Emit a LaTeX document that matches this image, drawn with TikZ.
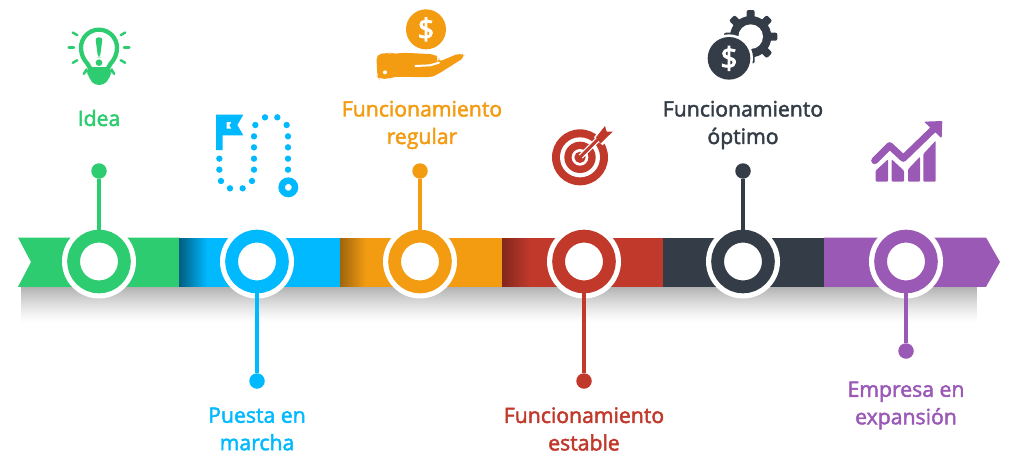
\documentclass[tikz,border=0pt]{standalone}
\usepackage{fontspec}
\setmainfont{Open Sans}[FakeBold=2.2]
\newfontfamily\signfont{Open Sans}[FakeBold=3]
\definecolor{cgreen}{HTML}{2ECC71}
\definecolor{cblue}{HTML}{00B9FF}
\definecolor{corange}{HTML}{F39C12}
\definecolor{cred}{HTML}{C0392B}
\definecolor{cdark}{HTML}{343D47}
\definecolor{cpurple}{HTML}{9B59B6}
\tikzset{
  halo/.style={circle,fill=white,minimum size=74pt,inner sep=0pt},
  ringnode/.style={circle,draw=#1,fill=white,line width=12.8pt,minimum size=50.8pt,inner sep=0pt},
  ballnode/.style={circle,fill=#1,minimum size=15.5pt,inner sep=0pt},
  stem/.style={draw=#1,line width=3.4pt},
  labeltext/.style={text=#1,align=center,inner sep=0pt,font=\fontsize{21.2}{27.5}\selectfont},
  coinsign/.style={text=white,inner sep=0pt,font=\fontsize{#1}{#1}\selectfont\signfont},
  icon/.style={x=.33333pt,y=-.33333pt}
}
\begin{document}
\begin{tikzpicture}[x=1pt,y=-1pt]
\useasboundingbox (0,0) rectangle (1024,466);
% shadow
\foreach \i in {0,...,36}{
  \pgfmathsetmacro\m{30*(1-\i/36)^1.3}
  \fill[black!\m] (21,287+\i) rectangle (977,288.2+\i);
}
% bar
\fill[cgreen] (18,237.5) -- (179.5,237.5) -- (179.5,286.8) -- (18,286.8) -- (31,262) -- cycle;
\fill[cblue] (179,237.5) rectangle (340.5,286.8);
\fill[corange] (340,237.5) rectangle (502,286.8);
\fill[cred] (502,237.5) rectangle (663.5,286.8);
\foreach \x/\c/\d/\w in {179/cblue/50/28,340/corange/35/26,502/cred/32/28}{
  \foreach \i in {0,...,27}{
    \pgfmathsetmacro\m{100-\d*(1-\i/\w)}
    \ifdim\m pt<100pt \fill[\c!\m!black] (\x+\i,237.5) rectangle (\x+\i+1.2,286.8);\fi
  }
}
\fill[cdark] (663,237.5) rectangle (824.5,286.8);
\fill[cpurple] (824,237.5) -- (986,237.5) -- (1000,262) -- (986,286.8) -- (824,286.8) -- cycle;
% stages
\foreach \n/\px/\py/\col in {a/99/171/cgreen,b/257/381/cblue,c/420/171/corange,d/584/381/cred,e/743/171/cdark,f/906/351/cpurple}{
  \node[halo] at (\px,261.5) {};
  \node[ringnode=\col] (ring\n) at (\px,261.5) {};
  \node[ballnode=\col] (ball\n) at (\px,\py) {};
  \draw[stem=\col] (ball\n) -- (ring\n);
}
% labels
\node[labeltext=cgreen] (la) at (99,118) {Idea};
\node[labeltext=cblue] (lb) at (257,429) {Puesta en\\marcha};
\node[labeltext=corange] (lc) at (422,125) {Funcionamiento\\regular};
\node[labeltext=cred] (ld) at (584,429) {Funcionamiento\\estable};
\node[labeltext=cdark] (le) at (743,125) {Funcionamiento\\óptimo};
\node[labeltext=cpurple] (lf) at (906,405.5) {Empresa en\\expansión};
% bulb
\begin{scope}[icon]
  \draw[cgreen,line width=4.3pt,line cap=round,line join=round]
    (263,192) .. controls (250,178) and (243,162) .. (243,143)
    arc[start angle=180,end angle=360,radius=54]
    .. controls (351,162) and (344,178) .. (331,192) -- (322,208) -- (272,208) -- cycle;
  \fill[cgreen,rounded corners=4pt] (258,206) -- (336,206) -- (336,216) -- (328,225) -- (328,238) -- (310,255) -- (284,255) -- (268,238) -- (268,225) -- (258,216) -- cycle;
  \fill[cgreen,rounded corners=3pt] (286,112) -- (308,112) -- (300,172) -- (294,172) -- cycle;
  \fill[cgreen] (297,188) circle[radius=10];
  \foreach \a in {-30,0,30,60,90,120,150,180,210}
    \draw[cgreen,line width=2.4pt,line cap=round] (297,143)++(\a:75) -- ++(\a:16);
\end{scope}
% flag and dotted route
\begin{scope}[icon]
  \fill[cblue] (648,344) -- (730,344) -- (712,375) -- (730,406) -- (668,406) -- (668,450) -- (648,450) -- cycle;
  \fill[white] (680,366) -- (694,366) -- (688,376) -- (694,386) -- (680,386) -- cycle;
  \foreach \u/\v in {658/476,658/509,663/543,690/565,728/565,756/543,762/509,762/476,762/442,762/409,766/375,795/352,832/352,860/375,864/409,864/442,864/476,864/509}
    \fill[cblue] (\u,\v) circle[radius=9.5];
  \draw[cblue,line width=6.5pt] (865,562) circle[radius=20];
\end{scope}
% hand and coin
\begin{scope}[shift={(340,0)},icon]
  \fill[corange] (258,88) circle[radius=60];
  \node[coinsign=29] (s1) at (258,88) {\$};
  \fill[corange,rounded corners=5pt] (109,163) -- (150,158) -- (160,163) -- (185,158) -- (285,163) -- (297,176) -- (292,187) -- (362,158) -- (377,170) -- (290,225) -- (270,232) -- (160,230) -- (150,235) -- (118,238) -- (112,230) -- cycle;
  \draw[white,line width=2pt,line cap=round] (226,198) -- (270,196) -- (297,188);
  \fill[white] (135,217) circle[radius=6];
\end{scope}
% target
\begin{scope}[shift={(340,0)},icon]
  \fill[cred] (720,472) circle[radius=84];
  \fill[white] (720,472) circle[radius=60];
  \fill[cred] (720,472) circle[radius=47];
  \fill[white] (720,472) circle[radius=25];
  \fill[cred] (720,472) circle[radius=17];
  \draw[white,line width=5.5pt] (722,470) -- (790,402);
  \fill[white] (762,412) -- (792,372) -- (826,392) -- (788,436) -- cycle;
  \draw[cred,line width=3pt] (720,472) -- (790,402);
  \fill[cred] (768,412) -- (795,378) -- (800,395) -- (818,395) -- (782,430) -- cycle;
\end{scope}
% gear and coin
\begin{scope}[shift={(684,0)},icon]
  \foreach \a in {0,45,...,315}
    \fill[cdark,rounded corners=2pt,rotate around={\a:(200,110)}] (188,30) rectangle (212,70);
  \fill[cdark] (200,110) circle[radius=62];
  \fill[white] (200,110) circle[radius=37];
  \fill[white] (135,175) circle[radius=72];
  \fill[cdark] (135,175) circle[radius=64];
  \node[coinsign=30] (s2) at (135,175) {\$};
\end{scope}
% growth chart
\begin{scope}[shift={(684,0)},icon]
  \fill[cpurple,rounded corners=1pt] (575,545) -- (575,512) -- (612,478) -- (612,545) -- cycle;
  \fill[cpurple,rounded corners=1pt] (623,545) -- (623,478) -- (660,512) -- (660,545) -- cycle;
  \fill[cpurple,rounded corners=1pt] (672,545) -- (672,508) -- (708,470) -- (708,545) -- cycle;
  \fill[cpurple,rounded corners=1pt] (718,545) -- (718,462) -- (755,422) -- (755,545) -- cycle;
  \draw[cpurple,line width=7pt,line cap=round,line join=round] (572,482) -- (617,437) -- (658,475) -- (752,384);
  \fill[cpurple,rounded corners=1pt] (720,365) -- (775,363) -- (773,415) -- cycle;
\end{scope}
\end{tikzpicture}
\end{document}
